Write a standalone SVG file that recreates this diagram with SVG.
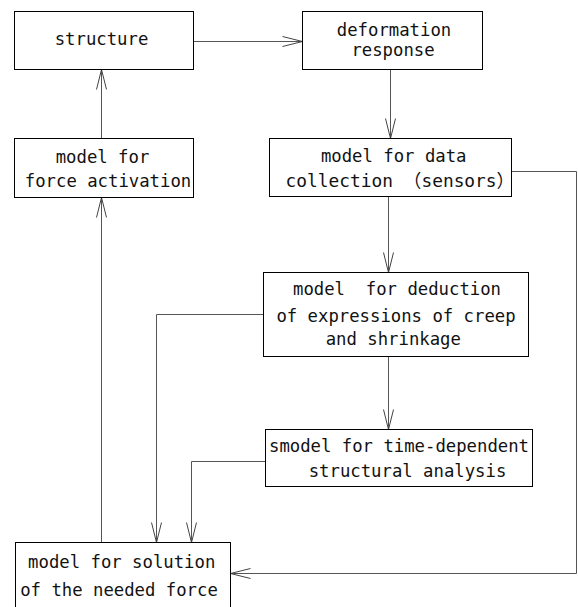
<svg xmlns="http://www.w3.org/2000/svg" width="578" height="607" viewBox="0 0 578 607">
<style>
.box{fill:#fff;stroke:#000;stroke-width:1}
.t{font-family:"DejaVu Sans Mono","Liberation Mono","Noto Sans CJK SC",monospace;font-size:18px;fill:#111;text-anchor:middle}
.c{fill:none;stroke:#555;stroke-width:1}
</style>
<defs>
<marker id="ah" markerUnits="userSpaceOnUse" markerWidth="24" markerHeight="14" refX="0" refY="0" viewBox="-22 -7 24 14" orient="auto" overflow="visible">
<path d="M-20,-5 L0,0 L-20,5" fill="none" stroke="#444" stroke-width="1"/>
</marker>
</defs>
<rect width="578" height="607" fill="#fff"/>
<g id="connectors">
<path class="c" d="M193.5,41.5 H302.5" marker-end="url(#ah)"/>
<path class="c" d="M390.5,69.5 V138.5" marker-end="url(#ah)"/>
<path class="c" d="M101.5,138.5 V69.5" marker-end="url(#ah)"/>
<path class="c" d="M388.5,196.5 V272.5" marker-end="url(#ah)"/>
<path class="c" d="M388.5,356.5 V429.5" marker-end="url(#ah)"/>
<path class="c" d="M511.5,171.5 H576.5 V573.5 H230.5" marker-end="url(#ah)"/>
<path class="c" d="M263.5,314.5 H156.5 V542.5" marker-end="url(#ah)"/>
<path class="c" d="M265.5,461.5 H191.5 V542.5" marker-end="url(#ah)"/>
<path class="c" d="M101.5,542.5 V197.5" marker-end="url(#ah)"/>
</g>
<g id="structure">
<rect class="box" x="14.5" y="11.5" width="179" height="58"/>
<text class="t" x="101.5" y="45" textLength="93.6" lengthAdjust="spacingAndGlyphs">structure</text>
</g>
<g id="deformation">
<rect class="box" x="302.5" y="11.5" width="180" height="58"/>
<text class="t"><tspan x="394" y="36" textLength="114.4" lengthAdjust="spacingAndGlyphs">deformation</tspan><tspan x="393" y="55.5" textLength="83.2" lengthAdjust="spacingAndGlyphs">response</tspan></text>
</g>
<g id="force-activation">
<rect class="box" x="14.5" y="138.5" width="179" height="59"/>
<text class="t" x="102.5" y="163" textLength="93.6" lengthAdjust="spacingAndGlyphs">model for</text>
<text class="t" x="108" y="187" textLength="166.4" lengthAdjust="spacingAndGlyphs">force activation</text>
</g>
<g id="data-collection">
<rect class="box" x="269.5" y="138.5" width="242" height="58"/>
<text class="t" x="393.7" y="161.7" textLength="145.6" lengthAdjust="spacingAndGlyphs">model for data</text>
<text class="t" x="400" y="186.7" textLength="228.8" lengthAdjust="spacingAndGlyphs">collection （sensors）</text>
</g>
<g id="deduction">
<rect class="box" x="263.5" y="272.5" width="265" height="84"/>
<text class="t" x="397" y="295" xml:space="preserve" textLength="208" lengthAdjust="spacingAndGlyphs">model  for deduction</text>
<text class="t" x="396" y="321.7" textLength="239.2" lengthAdjust="spacingAndGlyphs">of expressions of creep</text>
<text class="t" x="393.3" y="345" textLength="135.2" lengthAdjust="spacingAndGlyphs">and shrinkage</text>
</g>
<g id="time-dependent">
<rect class="box" x="265.5" y="429.5" width="267" height="57"/>
<text class="t" x="399" y="451.7" textLength="260" lengthAdjust="spacingAndGlyphs">smodel for time-dependent</text>
<text class="t" x="407.5" y="476.7" textLength="197.6" lengthAdjust="spacingAndGlyphs">structural analysis</text>
</g>
<g id="solution">
<rect class="box" x="15.5" y="542.5" width="215" height="80"/>
<text class="t" x="121.7" y="568.3" textLength="187.2" lengthAdjust="spacingAndGlyphs">model for solution</text>
<text class="t" x="119" y="595.7" textLength="197.6" lengthAdjust="spacingAndGlyphs">of the needed force</text>
</g>
</svg>
